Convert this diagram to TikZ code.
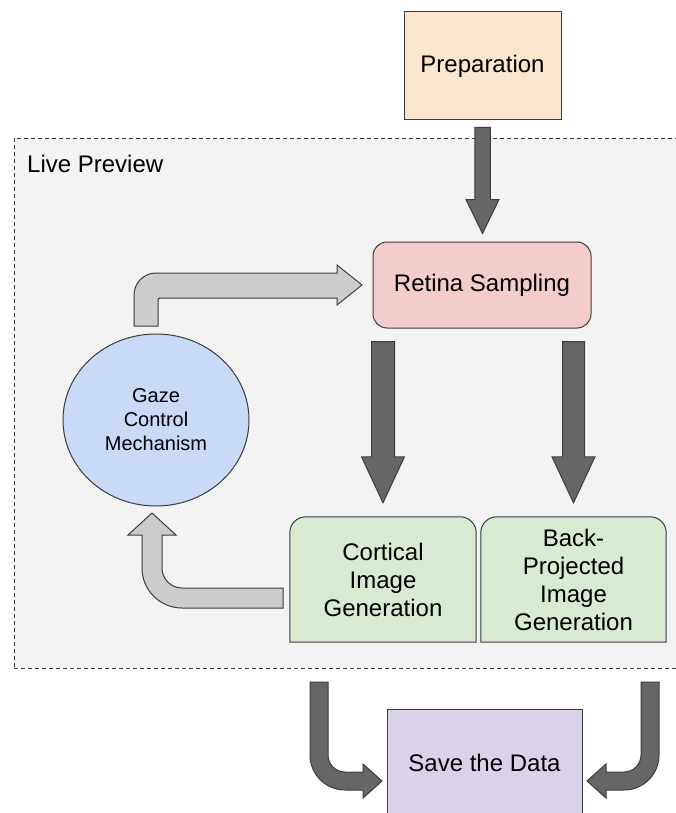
\documentclass[tikz,border=0pt]{standalone}
\usepackage{fontspec}
\setmainfont{Liberation Sans}
\usetikzlibrary{shapes.geometric,calc}
\pgfdeclarelayer{bg}
\pgfdeclarelayer{mid}
\pgfsetlayers{bg,mid,main}
\definecolor{peach}{HTML}{FCE5CD}
\definecolor{pinkc}{HTML}{F4CCCC}
\definecolor{bluec}{HTML}{C9DAF8}
\definecolor{greenc}{HTML}{D9EAD3}
\definecolor{purplec}{HTML}{D9D2E9}
\definecolor{darkarrow}{HTML}{666666}
\definecolor{lightarrow}{HTML}{CCCCCC}
\definecolor{framefill}{HTML}{F3F3F3}
\definecolor{edgec}{HTML}{3C3C3C}
\newcommand\downblock[6]{%
  \draw[#1] let \p1=(#2), \p2=(#3) in
    (\x1-#4,\y1) -- (\x1+#4,\y1) -- (\x1+#4,\y2+#6) -- (\x1+#5,\y2+#6) --
    (\x1,\y2) -- (\x1-#5,\y2+#6) -- (\x1-#4,\y2+#6) -- cycle;}
\begin{document}
\begin{tikzpicture}[x=1pt,y=-1pt,
  every node/.style={font=\fontsize{24}{28}\selectfont, text=black, inner sep=0pt, align=center},
  box/.style={draw=edgec, line width=1pt},
  framebox/.style={draw=edgec, line width=0.9pt, dash pattern=on 4pt off 3pt, fill=framefill},
  darkblk/.style={fill=darkarrow, draw=edgec, line width=1pt, line join=miter},
  lightblk/.style={fill=lightarrow, draw=edgec, line width=1pt, line join=miter},
  greenbox/.style={fill=greenc, draw=edgec, line width=1pt}]
\useasboundingbox (0,0) rectangle (676,813);

% frame
\begin{pgfonlayer}{bg}
\fill[white] (0,0) rectangle (676,813);
\node[framebox, minimum width=680, minimum height=530, anchor=north west] (live) at (14,138) {};
\end{pgfonlayer}
\node[anchor=base west] (livelabel) at (27,172) {Live Preview};

% nodes
\node[box, fill=peach, minimum width=157, minimum height=108] (prep) at (482.5,66) {Preparation};
\node[box, fill=pinkc, rounded corners=14, minimum width=218, minimum height=86] (retina) at (482,285) {Retina Sampling};
\node[box, fill=bluec, ellipse, minimum width=186, minimum height=172, font=\fontsize{20}{24}\selectfont] (gaze) at (156,420) {Gaze\\Control\\Mechanism};
\node[minimum width=186, minimum height=125] (cortical) at (383,579.5) {Cortical\\Image\\Generation};
\node[minimum width=185, minimum height=125] (back) at (573.5,579.5) {Back-\\Projected\\Image\\Generation};
\node[box, fill=purplec, minimum width=195, minimum height=108] (save) at (484.5,763) {Save the Data};

\begin{pgfonlayer}{mid}
\foreach \n in {cortical,back}{
  \draw[greenbox] (\n.south west) -- ([yshift=-16pt]\n.north west)
    arc[start angle=180,end angle=270,radius=16]
    -- ([xshift=-16pt]\n.north east)
    arc[start angle=270,end angle=360,radius=16]
    -- (\n.south east) -- cycle;}
\end{pgfonlayer}

% straight dark block arrows
\downblock{darkblk}{$(prep.south)+(0,7)$}{$(retina.north)+(0,-8)$}{7.75pt}{16.5pt}{34pt}
\downblock{darkblk}{$(cortical.north |- retina.south)+(0,13)$}{$(cortical.north)+(0,-14)$}{11.5pt}{21.5pt}{46pt}
\downblock{darkblk}{$(back.north |- retina.south)+(0,13)$}{$(back.north)+(0,-14)$}{11pt}{21.5pt}{46pt}

% gaze -> retina (light, bent)
\draw[lightblk] (134,326) -- (134,295) arc[start angle=180,end angle=270,radius=22]
  -- (337,273) -- (337,265) -- (362,285) -- (337,305) -- (337,298)
  -- (160,298) arc[start angle=270,end angle=180,radius=2] -- (158,326) -- cycle;

% cortical -> gaze (light, bent)
\draw[lightblk] (283,588) -- (283,608) -- (182,608) arc[start angle=90,end angle=180,radius=40]
  -- (142,535) -- (128,535) -- (152,513) -- (176,535) -- (162,535)
  -- (162,568) arc[start angle=180,end angle=90,radius=20] -- cycle;

% to save (dark, curved)
\draw[darkblk] (310,682) -- (310,755) arc[start angle=180,end angle=90,radius=35]
  -- (363,790) -- (363,798) -- (382,781) -- (363,764) -- (363,772)
  -- (345,772) arc[start angle=90,end angle=180,radius=17] -- (328,682) -- cycle;
\draw[darkblk] (659,682) -- (659,755) arc[start angle=0,end angle=90,radius=35]
  -- (606,790) -- (606,798) -- (587,781) -- (606,764) -- (606,772)
  -- (624,772) arc[start angle=90,end angle=0,radius=17] -- (641,682) -- cycle;
\end{tikzpicture}
\end{document}
